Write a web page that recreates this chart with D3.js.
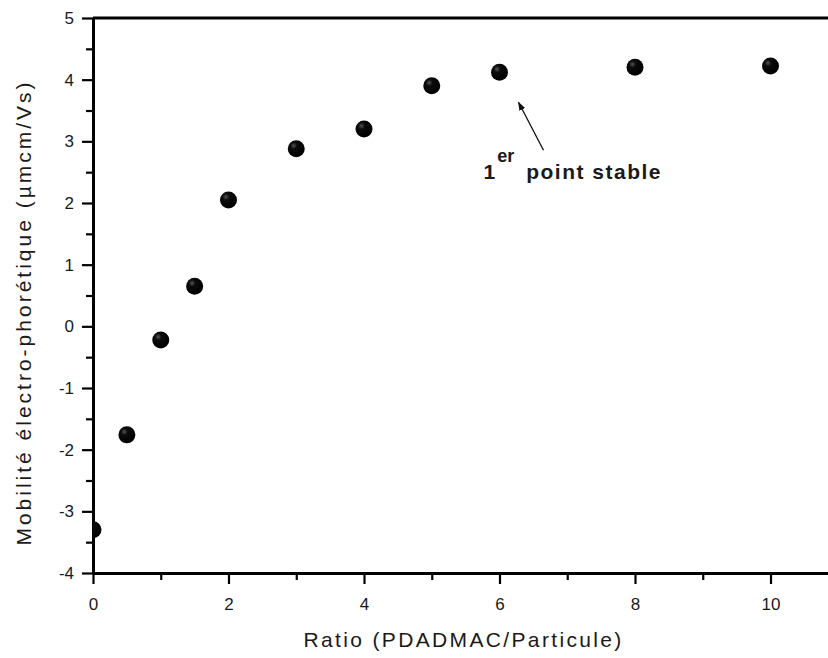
<!DOCTYPE html>
<html>
<head>
<meta charset="utf-8">
<script src="https://cdn.jsdelivr.net/npm/d3@7"></script>
<style>
  html, body { margin: 0; padding: 0; background: #fff; }
  svg { display: block; }
  text { font-family: "Liberation Sans", Arial, sans-serif; fill: #1a1a1a; }
</style>
</head>
<body>
<svg id="chart" width="828" height="658"></svg>
<script>
// ---- data ----
const ratios = [0, 0.5, 1, 1.5, 2, 3, 4, 5, 6, 8, 10];
const mobility = [-3.3, -1.76, -0.22, 0.65, 2.05, 2.88, 3.2, 3.9, 4.12, 4.2, 4.22];
const xMajorTicks = [0, 2, 4, 6, 8, 10];
const xMinorTicks = [1, 3, 5, 7, 9];
const yMajorTicks = [-4, -3, -2, -1, 0, 1, 2, 3, 4, 5];
const yMinorTicks = [-3.5, -2.5, -1.5, -0.5, 0.5, 1.5, 2.5, 3.5, 4.5];
const xTitle = "Ratio (PDADMAC/Particule)";
const yTitle = "Mobilité électro-phorétique (µmcm/Vs)";
const annotation = { x: 6, y: 4.12, sup: "er", main: "1", rest: "point stable" };

// ---- layout ----
const svg = d3.select("#chart");
const mLeft = 93, mTop = 18, mBottom = 573;
const x = d3.scaleLinear().domain([0, 11]).range([mLeft, mLeft + 11 * 67.75]);
const y = d3.scaleLinear().domain([-4, 5]).range([mBottom, mTop]);
const fmt = d => String(d); // plain hyphen-minus like the reference

const defs = svg.append("defs");
defs.append("clipPath").attr("id", "plotclip")
  .append("rect").attr("x", mLeft).attr("y", mTop - 20)
  .attr("width", 828 - mLeft + 20).attr("height", mBottom - mTop + 20);
const grad = defs.append("radialGradient").attr("id", "ball")
  .attr("cx", "35%").attr("cy", "32%").attr("r", "65%");
grad.append("stop").attr("offset", "0%").attr("stop-color", "#555");
grad.append("stop").attr("offset", "30%").attr("stop-color", "#0c0c0c");
grad.append("stop").attr("offset", "100%").attr("stop-color", "#000");
defs.append("marker").attr("id", "arrow")
  .attr("viewBox", "0 0 10 10").attr("refX", 9).attr("refY", 5)
  .attr("markerWidth", 7).attr("markerHeight", 7).attr("orient", "auto")
  .append("path").attr("d", "M0,1.5 L10,5 L0,8.5 Z").attr("fill", "#111");

// ---- axes ----
function styleAxis(g, w) {
  g.selectAll(".domain").attr("stroke", "#000").attr("stroke-width", w);
  g.selectAll(".tick line").attr("stroke", "#000").attr("stroke-width", 2.2);
  g.selectAll(".tick text").style("font-size", "17px").attr("fill", "#1a1a1a");
}

const gxMinor = svg.append("g").attr("transform", `translate(0,${mBottom})`)
  .call(d3.axisBottom(x).tickValues(xMinorTicks).tickSize(7).tickSizeOuter(0).tickFormat(""));
styleAxis(gxMinor, 0);
gxMinor.select(".domain").remove();

const gyMinor = svg.append("g").attr("transform", `translate(${mLeft},0)`)
  .call(d3.axisLeft(y).tickValues(yMinorTicks).tickSize(7).tickSizeOuter(0).tickFormat(""));
styleAxis(gyMinor, 0);
gyMinor.select(".domain").remove();

const gx = svg.append("g").attr("transform", `translate(0,${mBottom})`)
  .call(d3.axisBottom(x).tickValues(xMajorTicks).tickSize(11).tickSizeOuter(0).tickPadding(14).tickFormat(fmt));
styleAxis(gx, 3);

const gy = svg.append("g").attr("transform", `translate(${mLeft},0)`)
  .call(d3.axisLeft(y).tickValues(yMajorTicks).tickSize(11).tickSizeOuter(0).tickPadding(8).tickFormat(fmt));
styleAxis(gy, 3);

// top frame line
svg.append("line").attr("x1", x(0)).attr("x2", x(11)).attr("y1", y(5)).attr("y2", y(5))
  .attr("stroke", "#000").attr("stroke-width", 3);

// ---- points ----
svg.append("g").attr("clip-path", "url(#plotclip)")
  .selectAll("circle").data(ratios.map((r, i) => [r, mobility[i]]))
  .join("circle")
  .attr("cx", d => x(d[0])).attr("cy", d => y(d[1])).attr("r", 8.5)
  .attr("fill", "url(#ball)");

// ---- annotation ----
svg.append("line")
  .attr("x1", x(annotation.x) + 44).attr("y1", y(annotation.y) + 78)
  .attr("x2", x(annotation.x) + 19).attr("y2", y(annotation.y) + 30)
  .attr("stroke", "#111").attr("stroke-width", 1.3)
  .attr("marker-end", "url(#arrow)");

const ann = svg.append("text")
  .attr("x", x(annotation.x) - 16).attr("y", y(annotation.y) + 107)
  .style("font-weight", "bold").style("font-size", "21px");
ann.append("tspan").text(annotation.main).style("letter-spacing", "0px");
ann.append("tspan").text(annotation.sup).attr("dy", -17).attr("dx", 2).style("font-size", "18px");
ann.append("tspan").text(annotation.rest).attr("dy", 17).attr("dx", 12).style("letter-spacing", "1.5px");

// ---- titles ----
svg.append("text")
  .attr("x", (x(0) + x(11)) / 2 - 2).attr("y", 647)
  .attr("text-anchor", "middle")
  .style("font-size", "21px").style("letter-spacing", "2.35px")
  .text(xTitle);

svg.append("text")
  .attr("transform", `translate(31,${(mTop + mBottom) / 2 + 17}) rotate(-90)`)
  .attr("text-anchor", "middle")
  .style("font-size", "21px").style("letter-spacing", "3px")
  .text(yTitle);
</script>
</body>
</html>
